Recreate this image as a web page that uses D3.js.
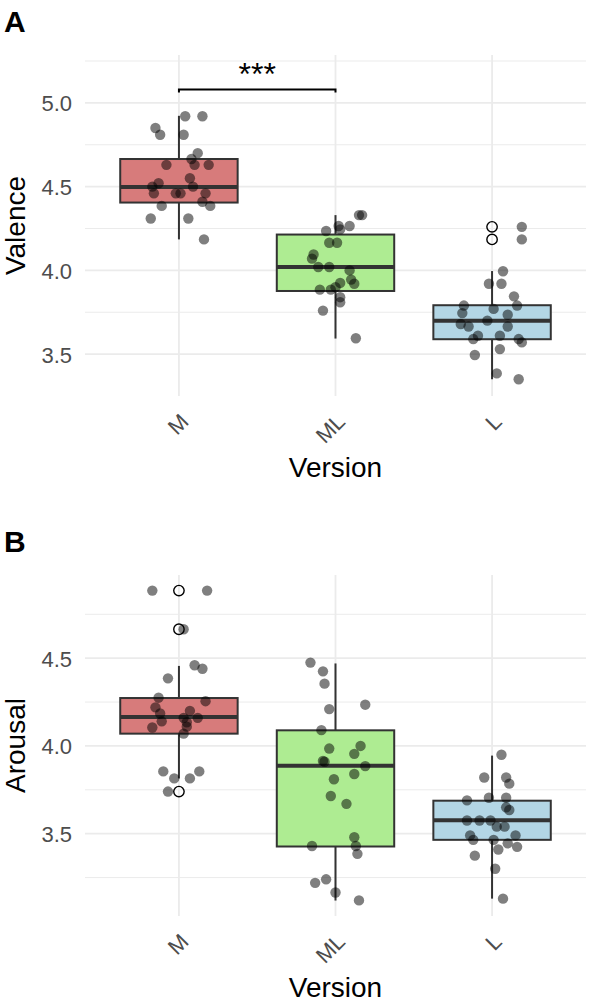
<!DOCTYPE html>
<html>
<head>
<meta charset="utf-8">
<script src="https://cdn.jsdelivr.net/npm/d3@7"></script>
<style>
  body { margin: 0; background: #fff; }
  text { font-family: "Liberation Sans", Arial, sans-serif; }
</style>
</head>
<body>
<script>
var width = 590;
var height = 1002;

var versions = ["M", "ML", "L"];
var fills = ["#d77b7b", "#aeec92", "#b3d6e5"];

// box stats per version: [lower whisker, q1, median, q3, upper whisker]
var valenceBoxes = [
  [4.185, 4.405, 4.498, 4.665, 4.923],
  [3.593, 3.877, 4.02, 4.214, 4.33],
  [3.35, 3.589, 3.699, 3.792, 3.996]
];
var valenceOutliers = [[], [], [4.26, 4.185]];
// jittered points: [jitter (category units), value]
var valenceM = [[0.04,4.92],[0.15,4.92],[-0.15,4.85],[-0.12,4.81],[0.03,4.81],[0.12,4.70],
  [0.08,4.665],[-0.08,4.63],[0.10,4.63],[0.19,4.63],[0.07,4.55],[-0.13,4.52],[-0.17,4.50],
  [0.09,4.50],[-0.16,4.46],[-0.02,4.46],[0.01,4.46],[0.17,4.46],[0.15,4.41],[0.20,4.385],
  [-0.11,4.385],[-0.18,4.31],[0.06,4.31],[0.16,4.185]];
var valenceML = [[0.15,4.33],[0.17,4.33],[0.09,4.265],[0.02,4.265],[-0.06,4.235],[0.03,4.245],
  [-0.04,4.165],[0.01,4.165],[-0.14,4.095],[-0.15,4.07],[-0.11,4.02],[-0.04,4.02],[0.09,4.00],
  [0.10,3.945],[0.12,3.92],[0.03,3.925],[-0.10,3.885],[-0.03,3.885],[0.00,3.90],[0.03,3.84],
  [0.03,3.81],[-0.08,3.76],[0.13,3.595]];
var valenceL = [[0.19,4.26],[0.19,4.185],[0.07,3.995],[-0.02,3.92],[0.06,3.92],[0.14,3.845],
  [-0.18,3.79],[0.16,3.79],[0.01,3.77],[-0.19,3.745],[0.10,3.735],[-0.03,3.70],[-0.20,3.68],
  [-0.15,3.665],[0.10,3.665],[-0.09,3.61],[0.05,3.61],[-0.12,3.59],[0.17,3.59],[0.19,3.57],
  [0.05,3.53],[-0.11,3.495],[0.03,3.385],[0.17,3.35]];

var arousalBoxes = [
  [3.815, 4.07, 4.165, 4.273, 4.456],
  [3.119, 3.427, 3.887, 4.089, 4.47],
  [3.13, 3.465, 3.577, 3.688, 3.945]
];
var arousalOutliers = [[4.885, 4.665, 3.74], [], []];
var arousalM = [[-0.17,4.885],[0.18,4.885],[0.03,4.665],[0.10,4.46],[0.15,4.44],[-0.07,4.385],
  [-0.13,4.275],[0.17,4.255],[-0.15,4.22],[0.07,4.20],[-0.12,4.185],[-0.11,4.14],[0.03,4.16],
  [0.12,4.16],[0.05,4.135],[-0.17,4.105],[0.05,4.11],[0.03,4.07],[-0.10,3.855],[0.13,3.855],
  [-0.03,3.815],[0.07,3.815],[-0.07,3.74]];
var arousalML = [[-0.16,4.475],[-0.08,4.425],[-0.07,4.355],[-0.04,4.21],[0.19,4.235],[-0.09,4.09],
  [-0.04,3.985],[0.16,4.00],[0.12,3.955],[-0.07,3.91],[-0.08,3.915],[0.19,3.885],[-0.01,3.81],
  [0.12,3.84],[-0.03,3.715],[0.07,3.67],[0.12,3.48],[0.13,3.43],[-0.15,3.43],[0.14,3.385],
  [-0.13,3.22],[-0.06,3.24],[0.00,3.165],[0.15,3.12]];
var arousalL = [[0.06,3.95],[-0.05,3.82],[0.09,3.82],[0.11,3.785],[-0.02,3.705],[0.09,3.705],
  [-0.16,3.69],[0.09,3.65],[0.11,3.635],[-0.16,3.575],[-0.08,3.575],[-0.01,3.575],[0.03,3.54],
  [0.08,3.54],[-0.14,3.49],[0.15,3.49],[-0.12,3.465],[0.01,3.465],[0.10,3.445],[0.16,3.425],
  [0.04,3.41],[-0.11,3.375],[0.02,3.30],[0.07,3.13]];

var valenceTicks = [3.5, 4.0, 4.5, 5.0];
var valenceMinor = [3.75, 4.25, 4.75, 5.25];
var arousalTicks = [3.5, 4.0, 4.5];
var arousalMinor = [3.25, 3.75, 4.25, 4.75];

var svg = d3.select("body").append("svg")
    .attr("width", width)
    .attr("height", height);

var x = d3.scalePoint()
    .domain(versions)
    .range([85, 586])
    .padding(0.6);
var step = x.step();

function panel(opt) {
  var y = d3.scaleLinear().domain(opt.domain).range([opt.bottom, opt.top]);
  var g = svg.append("g");

  // grid
  g.selectAll(".minor").data(opt.minor.filter(function(d){ return d >= opt.domain[0] && d <= opt.domain[1]; }))
   .enter().append("line")
   .attr("x1", x.range()[0]).attr("x2", x.range()[1])
   .attr("y1", y).attr("y2", y)
   .attr("stroke", "#ebebeb").attr("stroke-width", 1);
  g.selectAll(".major").data(opt.ticks)
   .enter().append("line")
   .attr("x1", x.range()[0]).attr("x2", x.range()[1])
   .attr("y1", y).attr("y2", y)
   .attr("stroke", "#ebebeb").attr("stroke-width", 1.8);
  g.selectAll(".vgrid").data(versions)
   .enter().append("line")
   .attr("x1", x).attr("x2", x)
   .attr("y1", opt.top).attr("y2", opt.bottom)
   .attr("stroke", "#ebebeb").attr("stroke-width", 1.8);

  // y axis labels
  var yAxis = d3.axisLeft(y).tickValues(opt.ticks).tickFormat(d3.format(".1f")).tickSize(0).tickPadding(0);
  var ya = g.append("g").attr("transform", "translate(72,0)").call(yAxis);
  ya.select(".domain").remove();
  ya.selectAll("text").attr("font-size", 22).attr("fill", "#4d4d4d")
    .attr("font-family", "Liberation Sans, Arial, sans-serif").attr("dy", "0.36em");

  // x axis labels
  g.selectAll(".xlab").data(versions).enter().append("text")
   .attr("transform", function(d){ return "translate(" + (x(d) + 11) + "," + (opt.bottom + 27) + ") rotate(-45)"; })
   .attr("text-anchor", "end")
   .attr("font-size", 22).attr("fill", "#4d4d4d")
   .text(function(d){ return d; });

  // titles
  g.append("text")
   .attr("x", (x.range()[0] + x.range()[1]) / 2)
   .attr("y", opt.bottom + 81)
   .attr("text-anchor", "middle").attr("font-size", 28).attr("fill", "#000")
   .text("Version");
  g.append("text")
   .attr("transform", "translate(25," + ((opt.top + opt.bottom) / 2) + ") rotate(-90)")
   .attr("text-anchor", "middle").attr("font-size", 28).attr("fill", "#000")
   .text(opt.ylab);
  g.append("text")
   .attr("x", 4).attr("y", opt.top - 23)
   .attr("font-size", 30).attr("font-weight", "bold").attr("fill", "#000")
   .text(opt.letter);

  var bw = step * 0.75;
  var boxes = g.selectAll(".box").data(opt.boxes).enter().append("g");
  boxes.append("line")
   .attr("x1", function(d, i){ return x(versions[i]); })
   .attr("x2", function(d, i){ return x(versions[i]); })
   .attr("y1", function(d){ return y(d[3]); })
   .attr("y2", function(d){ return y(d[4]); })
   .attr("stroke", "#333").attr("stroke-width", 2);
  boxes.append("line")
   .attr("x1", function(d, i){ return x(versions[i]); })
   .attr("x2", function(d, i){ return x(versions[i]); })
   .attr("y1", function(d){ return y(d[1]); })
   .attr("y2", function(d){ return y(d[0]); })
   .attr("stroke", "#333").attr("stroke-width", 2);
  boxes.append("rect")
   .attr("x", function(d, i){ return x(versions[i]) - bw / 2; })
   .attr("width", bw)
   .attr("y", function(d){ return y(d[3]); })
   .attr("height", function(d){ return y(d[1]) - y(d[3]); })
   .attr("fill", function(d, i){ return fills[i]; })
   .attr("stroke", "#333").attr("stroke-width", 2);
  boxes.append("line")
   .attr("x1", function(d, i){ return x(versions[i]) - bw / 2; })
   .attr("x2", function(d, i){ return x(versions[i]) + bw / 2; })
   .attr("y1", function(d){ return y(d[2]); })
   .attr("y2", function(d){ return y(d[2]); })
   .attr("stroke", "#333").attr("stroke-width", 4);

  // outliers
  opt.outliers.forEach(function(vals, i) {
    g.selectAll(null).data(vals).enter().append("circle")
     .attr("cx", x(versions[i])).attr("cy", y)
     .attr("r", 5.2)
     .attr("fill", "none").attr("stroke", "#000").attr("stroke-width", 1.4);
  });

  // jittered points
  opt.points.forEach(function(pts, i) {
    g.selectAll(null).data(pts).enter().append("circle")
     .attr("cx", function(d){ return x(versions[i]) + d[0] * step; })
     .attr("cy", function(d){ return y(d[1]); })
     .attr("r", 5.2)
     .attr("fill", "#000").attr("fill-opacity", 0.5);
  });

  return {g: g, y: y};
}

var pA = panel({
  letter: "A", ylab: "Valence", top: 55, bottom: 396, domain: [3.25, 5.286],
  ticks: valenceTicks, minor: valenceMinor, boxes: valenceBoxes,
  outliers: valenceOutliers, points: [valenceM, valenceML, valenceL]
});

panel({
  letter: "B", ylab: "Arousal", top: 575, bottom: 916, domain: [3.031, 4.974],
  ticks: arousalTicks, minor: arousalMinor, boxes: arousalBoxes,
  outliers: arousalOutliers, points: [arousalM, arousalML, arousalL]
});

// significance bracket M vs ML
var sigY = 5.08;
var yA = pA.y;
pA.g.append("path")
  .attr("d", "M" + x("M") + "," + (yA(sigY) + 3) + "V" + yA(sigY) + "H" + x("ML") + "V" + (yA(sigY) + 3))
  .attr("fill", "none").attr("stroke", "#000").attr("stroke-width", 2);
pA.g.append("text")
  .attr("x", (x("M") + x("ML")) / 2)
  .attr("y", yA(sigY) - 5)
  .attr("text-anchor", "middle").attr("font-size", 32).attr("fill", "#000")
  .text("***");
</script>
</body>
</html>
